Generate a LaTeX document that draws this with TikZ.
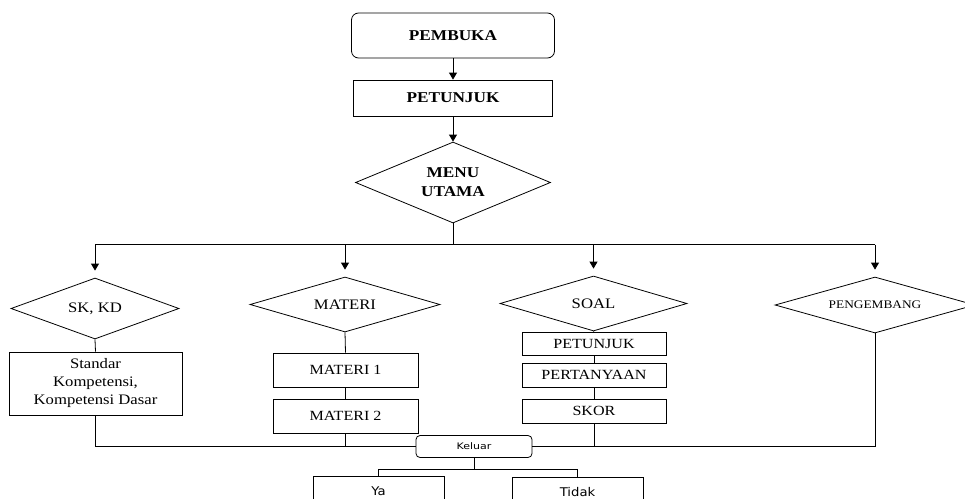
\documentclass[tikz,border=0pt]{standalone}
\usepackage{fontspec}
\setmainfont{Liberation Serif}[FakeStretch=1.15]
\newfontfamily\sansf{DejaVu Sans}[FakeStretch=1.1]
\newfontfamily\sansw{DejaVu Sans}[FakeStretch=1.22]
\usetikzlibrary{shapes.geometric,arrows.meta}
\tikzset{
  box/.style={draw, rectangle, inner sep=0pt, align=center},
  rbox/.style={draw, rectangle, rounded corners=7pt, inner sep=0pt, align=center},
  dia/.style={draw, diamond, inner sep=0pt, align=center},
  arr/.style={-{Triangle[length=7pt,width=8pt]}},
  bigbold/.style={font=\fontsize{15}{19}\selectfont\bfseries},
  txt/.style={font=\fontsize{14.5}{18}\selectfont},
  txts/.style={font=\fontsize{14}{17}\selectfont},
  txtxs/.style={font=\fontsize{11.6}{14}\selectfont},
  sanss/.style={font=\sansw\fontsize{9}{11}\selectfont},
  sansm/.style={font=\sansf\fontsize{12}{14}\selectfont}
}
\begin{document}
\begin{tikzpicture}[x=1pt,y=-1pt,line width=0.8pt]
\useasboundingbox (0,0) rectangle (965,498);
\clip (0,0) rectangle (965,498);
\fill[white] (0,0) rectangle (965,498);

% top chain
\node[rbox, bigbold, minimum width=203pt, minimum height=45pt] (pembuka) at (453,35.5) {PEMBUKA};
\node[box, bigbold, minimum width=199pt, minimum height=36pt] (petunjuk) at (453,98) {PETUNJUK};
\node[dia, bigbold, aspect=2.4, minimum width=195pt, minimum height=81pt] (menu) at (453,182.5) {MENU\\UTAMA};

\draw[arr] (pembuka.south) -- (petunjuk.north);
\draw[arr] (petunjuk.south) -- (menu.north);

% menu branches
\node[dia, txt, aspect=2.75, minimum width=168pt, minimum height=61pt] (sk) at (95,308.5) {SK, KD};
\node[dia, txt, aspect=3.45, minimum width=190pt, minimum height=55pt] (materi) at (345,304.5) {MATERI};
\node[dia, txt, aspect=3.4, minimum width=187pt, minimum height=55pt] (soal) at (593.5,303.5) {SOAL};
\node[dia, txtxs, aspect=3.57, minimum width=200pt, minimum height=56pt] (peng) at (875,305) {PENGEMBANG};

\coordinate (bus) at (0,244.5);
\draw (menu.south) -- (menu.south |- bus);
\draw (sk.north |- bus) -- (peng.north |- bus);
\foreach \n in {sk,materi,soal,peng}{
  \draw[arr, shorten >=7pt] (\n.north |- bus) -- (\n.north);
}

% SK KD
\node[box, txt, minimum width=173pt, minimum height=63pt] (std) at (95.5,383.5) {Standar\\Kompetensi,\\Kompetensi Dasar};
\draw (sk.south) -- (std.north);

% MATERI
\node[box, txts, minimum width=145pt, minimum height=34pt] (m1) at (345.5,370) {MATERI 1};
\node[box, txts, minimum width=145pt, minimum height=34pt] (m2) at (345.5,416) {MATERI 2};
\draw (materi.south) -- (m1.north);
\draw (m1.south) -- (m2.north);

% SOAL
\node[box, txts, minimum width=144pt, minimum height=23pt] (sp) at (594,343.5) {PETUNJUK};
\node[box, txts, minimum width=144pt, minimum height=24pt] (sq) at (594,375) {PERTANYAAN};
\node[box, txts, minimum width=144pt, minimum height=24pt] (ss) at (594,411) {SKOR};
\draw (soal.south) -- (sp.north);
\draw (sp.south) -- (sq.north);
\draw (sq.south) -- (ss.north);

% Keluar
\node[rbox, sanss, rounded corners=4pt, minimum width=116pt, minimum height=22pt] (keluar) at (474,446.5) {Keluar};
\draw (std.south) -- (std.south |- keluar) -- (keluar.west);
\draw (m2.south) -- (m2.south |- keluar);
\draw (peng.south) -- (peng.south |- keluar) -- (keluar.east);
\draw (ss.south) -- (ss.south |- keluar);

% Ya / Tidak
\node[box, sansm, minimum width=131pt, minimum height=30pt] (ya) at (378.5,491) {Ya};
\node[box, sansm, minimum width=131pt, minimum height=30pt] (tidak) at (577.5,492) {Tidak};
\coordinate (split) at (0,469);
\draw (keluar.south) -- (keluar.south |- split);
\draw (ya.north) -- (ya.north |- split) -- (tidak.north |- split) -- (tidak.north);
\end{tikzpicture}
\end{document}
